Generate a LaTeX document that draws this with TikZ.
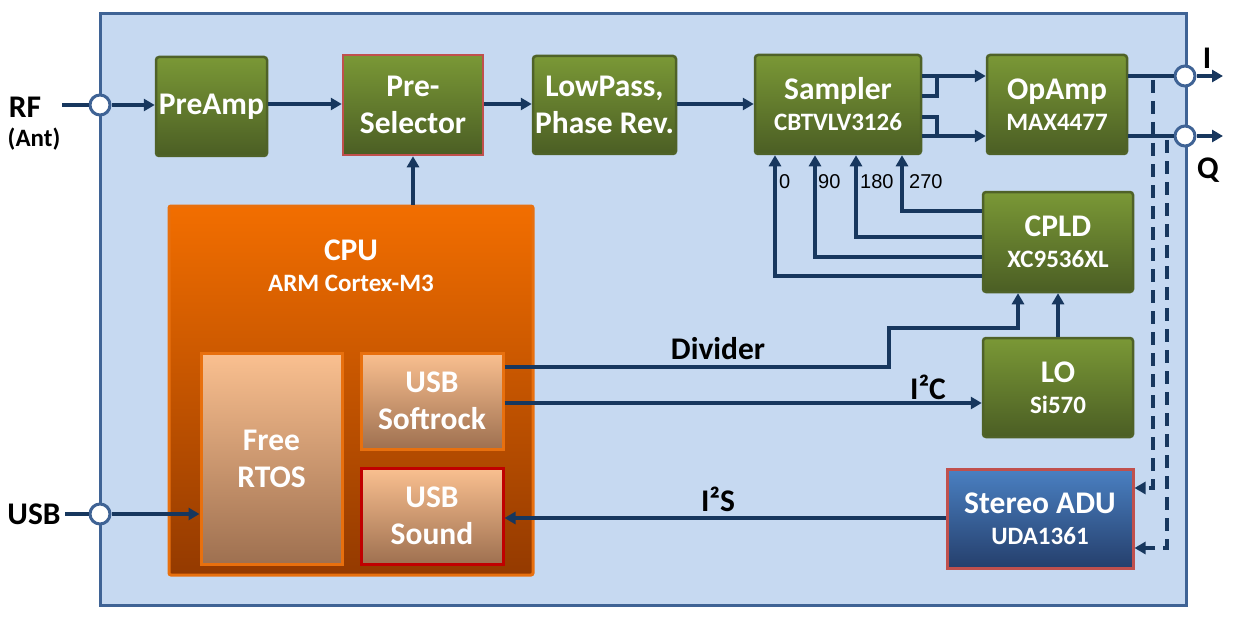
\documentclass[tikz,border=0pt]{standalone}
\usepackage{fontspec}
\setmainfont{Carlito}
\newfontfamily\arialf{Liberation Sans}
\usetikzlibrary{arrows.meta}
\definecolor{bgblue}{HTML}{C6D9F1}
\definecolor{frameblue}{HTML}{3F6395}
\definecolor{conncol}{HTML}{17375E}
\definecolor{gtop}{HTML}{7A9836}
\definecolor{gbot}{HTML}{4B5E24}
\definecolor{gborder}{HTML}{4F6228}
\definecolor{redb}{HTML}{C0504D}
\definecolor{darkred}{HTML}{C00000}
\definecolor{otop}{HTML}{F26E00}
\definecolor{obot}{HTML}{943A00}
\definecolor{oborder}{HTML}{E8700E}
\definecolor{ptop}{HTML}{FAC090}
\definecolor{pbot}{HTML}{9E7050}
\definecolor{btop}{HTML}{4A80C2}
\definecolor{bbot}{HTML}{253F6C}
\newcommand\subtxt{\fontsize{25}{29}\selectfont}
\tikzset{
  boxtext/.style={text=white, font=\bfseries\fontsize{31.5}{37}\selectfont, align=center, inner sep=0pt},
  gbox/.style={boxtext, draw=gborder, line width=2.5pt, top color=gtop, bottom color=gbot, rounded corners=3pt},
  pbox/.style={boxtext, draw=oborder, line width=3pt, top color=ptop, bottom color=pbot},
  conn/.style={draw=conncol, line width=3.2pt},
  tip/.style={-{Triangle[length=11pt,width=12pt]}},
  dconn/.style={conn, dash pattern=on 13pt off 8pt},
  port/.style={circle, draw=frameblue, fill=white, line width=3pt, minimum size=20pt, inner sep=0pt},
  lbl/.style={text=black, font=\bfseries\fontsize{31.5}{37}\selectfont, inner sep=0pt},
  num/.style={text=black, font=\arialf\fontsize{20}{24}\selectfont, inner sep=0pt, anchor=west}
}
\begin{document}
\begin{tikzpicture}[x=1pt,y=-1pt]
\useasboundingbox (0,0) rectangle (1234,623);
\fill[white] (0,0) rectangle (1234,623);
\node[draw=frameblue, fill=bgblue, line width=3pt, minimum width=1086pt, minimum height=591pt, inner sep=0pt] (frame) at (643,309.5) {};

% boxes
\node[gbox, minimum width=111pt, minimum height=99pt] (pre) at (211.5,106.5) {PreAmp};
\node[gbox, draw=redb, rounded corners=0pt, minimum width=140pt, minimum height=100pt] (sel) at (413,105) {Pre-\\Selector};
\node[gbox, minimum width=143pt, minimum height=98pt] (lp) at (604.5,105) {LowPass,\\Phase Rev.};
\node[gbox, minimum width=166pt, minimum height=99pt] (smp) at (838,104.5) {Sampler\\[-6pt]{\subtxt CBTVLV3126}};
\node[gbox, minimum width=140pt, minimum height=99pt] (opa) at (1057,104.5) {OpAmp\\[-6pt]{\subtxt MAX4477}};
\node[gbox, minimum width=150pt, minimum height=100pt] (cpld) at (1058,242) {CPLD\\[-6pt]{\subtxt XC9536XL}};
\node[gbox, minimum width=150pt, minimum height=99pt] (lo) at (1058,387.5) {LO\\[-6pt]{\subtxt Si570}};
\node[boxtext, draw=redb, line width=3pt, top color=btop, bottom color=bbot, minimum width=186pt, minimum height=99pt] (adu) at (1040,518.5) {Stereo ADU\\[-6pt]{\subtxt UDA1361}};

\node[draw=oborder, line width=3pt, top color=otop, bottom color=obot, rounded corners=2pt, minimum width=364pt, minimum height=369pt, inner sep=0pt] (cpu) at (351,390.5) {};
\node[boxtext] (cputxt) at (351,266) {CPU\\[-6pt]{\subtxt ARM Cortex-M3}};
\node[pbox, minimum width=141pt, minimum height=211pt] (rtos) at (271.5,458.5) {Free\\RTOS};
\node[pbox, minimum width=142pt, minimum height=96pt] (soft) at (432,401) {USB\\Softrock};
\node[pbox, draw=darkred, minimum width=142pt, minimum height=96pt] (snd) at (432,516) {USB\\Sound};

% ports
\node[port] (rfc) at (100,105) {};
\node[port] (usbc) at (100,514) {};
\node[port] (ic) at (1185,76) {};
\node[port] (qc) at (1185,136) {};
\coordinate (rfin) at (62,105);
\coordinate (usbin) at (65,514);
\coordinate (iout) at (1223,76);
\coordinate (qout) at (1223,136);

% outside labels
\node[lbl] (rflbl) at (25,107) {RF};
\node[lbl, font=\bfseries\fontsize{25}{29}\selectfont] (antlbl) at (34,139) {(Ant)};
\node[lbl] (usblbl) at (34,514) {USB};
\node[lbl] (ilbl) at (1207,58) {I};
\node[lbl] (qlbl) at (1208,170) {Q};

% connectors
\draw[conn] (rfin) -- (rfc);
\draw[conn] (usbin) -- (usbc);
\draw[conn,tip] (rfc) -- (pre.west |- rfc);
\draw[conn,tip] (pre.east |- 0,104) -- (sel.west |- 0,104);
\draw[conn,tip] (sel.east |- 0,104) -- (lp.west |- 0,104);
\draw[conn,tip] (lp.east |- 0,104) -- (smp.west |- 0,104);
\draw[conn,tip] (smp.east |- 0,76) -- (opa.west |- 0,76);
\draw[conn,tip] (smp.east |- 0,136) -- (opa.west |- 0,136);
\draw[conn] (smp.east |- 0,96) -- (937,96) -- (937,76);
\draw[conn] (smp.east |- 0,117) -- (937,117) -- (937,136);
\draw[conn] (opa.east |- ic) -- (ic);
\draw[conn] (opa.east |- qc) -- (qc);
\draw[conn,tip] (ic) -- (iout);
\draw[conn,tip] (qc) -- (qout);
\draw[dconn,tip] (1153,80) -- (1153,488) -- (adu.east |- 0,488);
\draw[dconn,tip] (1167,140) -- (1167,548) -- (adu.east |- 0,548);

\draw[conn,tip] (cpld.west |- 0,276) -- (775,276) -- (smp.south -| 775,0);
\draw[conn,tip] (cpld.west |- 0,257) -- (815,257) -- (smp.south -| 815,0);
\draw[conn,tip] (cpld.west |- 0,237) -- (856,237) -- (smp.south -| 856,0);
\draw[conn,tip] (cpld.west |- 0,211) -- (902,211) -- (smp.south -| 902,0);
\node[num] (n0) at (779,182) {0};
\node[num] (n90) at (818,182) {90};
\node[num] (n180) at (860,182) {180};
\node[num] (n270) at (909,182) {270};

\draw[conn,tip] (soft.east |- 0,367) -- (889,367) -- (889,328) -- (1018,328) -- (cpld.south -| 1018,0);
\draw[conn,tip] (soft.east |- 0,403) -- (lo.west |- 0,403);
\draw[conn,tip] (lo.north) -- (cpld.south);
\draw[conn,tip] (adu.west |- 0,518) -- (snd.east |- 0,518);
\draw[conn,tip] (usbc) -- (rtos.west |- usbc);
\draw[conn,tip] (cpu.north -| sel.south) -- (sel.south);

\node[lbl] (divlbl) at (718,349) {Divider};
\node[lbl] (i2clbl) at (928,387) {I²C};
\node[lbl] (i2slbl) at (718,499) {I²S};
\end{tikzpicture}
\end{document}
